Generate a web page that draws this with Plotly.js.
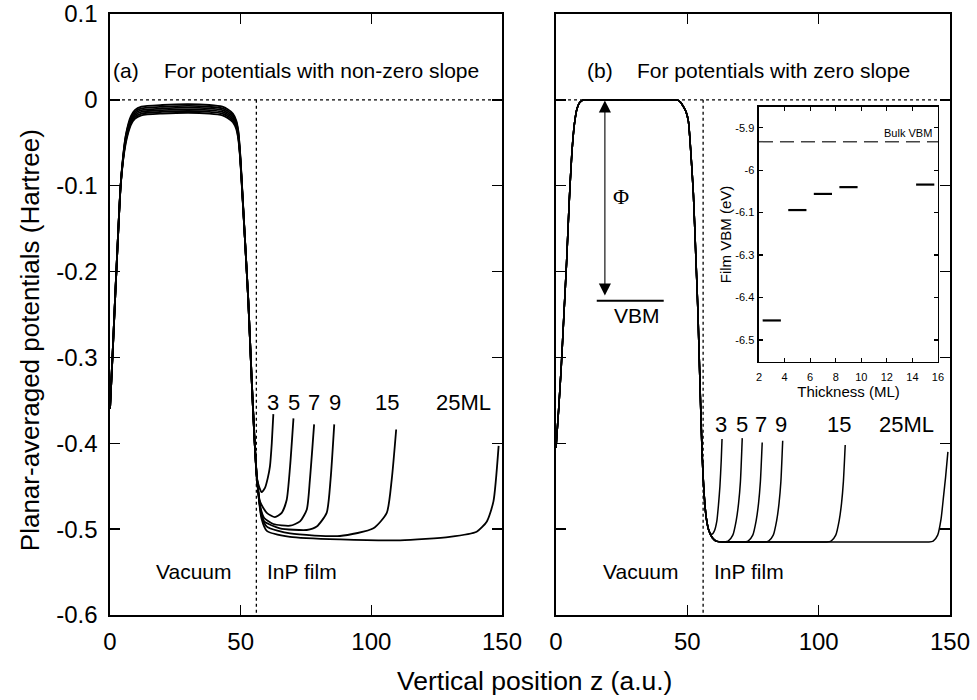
<!DOCTYPE html>
<html>
<head>
<meta charset="utf-8">
<script src="https://cdn.plot.ly/plotly-3.0.1.min.js"></script>
<style>
  html, body { margin: 0; padding: 0; background: #fff; }
  #chart { width: 977px; height: 700px; }
</style>
</head>
<body>
<div id="chart"></div>
<script>
// Planar-averaged potentials of InP films (3-25 ML) against vertical position z.
const FONT = 'Liberation Sans, Arial, Helvetica, sans-serif';

const THICKNESS = [3, 5, 7, 9, 15, 25];
const CURVE_LABELS = ['3', '5', '7', '9', '15', '25ML'];

// ---- Panel (a): potentials with non-zero slope ----
const A_VAC_Z = [0, 1, 2, 3, 4, 5, 6, 7, 8, 9.5, 12, 20, 30, 38, 43, 45, 47, 48.3, 49.1, 49.8, 50.4, 51.6, 52.9, 54.2, 55.2, 56.2];
const A_VAC_3 = [-0.36, -0.296, -0.228, -0.163, -0.103, -0.066, -0.042, -0.028, -0.019, -0.012, -0.008, -0.006, -0.005, -0.006, -0.008, -0.011, -0.016, -0.024, -0.036, -0.062, -0.093, -0.160, -0.233, -0.325, -0.39, -0.44];
const A_VAC_5 = [-0.36, -0.296, -0.228, -0.163, -0.103, -0.067, -0.043, -0.030, -0.021, -0.014, -0.010, -0.008, -0.007, -0.008, -0.010, -0.013, -0.018, -0.026, -0.038, -0.063, -0.094, -0.160, -0.233, -0.325, -0.39, -0.44];
const A_VAC_7 = [-0.36, -0.296, -0.228, -0.163, -0.103, -0.068, -0.045, -0.032, -0.023, -0.016, -0.012, -0.010, -0.009, -0.010, -0.012, -0.015, -0.020, -0.028, -0.040, -0.065, -0.095, -0.161, -0.233, -0.325, -0.39, -0.44];
const A_VAC_9 = [-0.36, -0.296, -0.228, -0.163, -0.103, -0.069, -0.047, -0.034, -0.025, -0.018, -0.014, -0.012, -0.011, -0.012, -0.014, -0.017, -0.022, -0.030, -0.042, -0.066, -0.096, -0.161, -0.233, -0.325, -0.39, -0.44];
const A_VAC_15 = [-0.36, -0.296, -0.228, -0.163, -0.103, -0.070, -0.049, -0.036, -0.027, -0.020, -0.016, -0.014, -0.013, -0.014, -0.016, -0.019, -0.024, -0.032, -0.044, -0.067, -0.097, -0.161, -0.233, -0.325, -0.39, -0.44];
const A_VAC_25 = [-0.36, -0.296, -0.228, -0.163, -0.103, -0.071, -0.051, -0.038, -0.029, -0.022, -0.018, -0.016, -0.015, -0.016, -0.018, -0.021, -0.026, -0.034, -0.046, -0.068, -0.098, -0.161, -0.233, -0.325, -0.39, -0.44];

const A_FILM_Z_3 = [57.2, 58.0, 59.3, 60.4, 61.2, 61.9, 62.5];
const A_FILM_V_3 = [-0.452, -0.457, -0.452, -0.440, -0.427, -0.400, -0.366];
const A_FILM_Z_5 = [57.4, 60, 63.1, 65.7, 67.6, 68.9, 70.2];
const A_FILM_V_5 = [-0.468, -0.481, -0.486, -0.481, -0.466, -0.427, -0.371];
const A_FILM_Z_7 = [57.6, 59, 62.5, 68.9, 72.7, 75.3, 76.5, 78.1];
const A_FILM_V_7 = [-0.475, -0.487, -0.494, -0.496, -0.491, -0.477, -0.442, -0.378];
const A_FILM_Z_9 = [57.8, 59, 65, 75.3, 79.1, 82.9, 84.4, 85.8];
const A_FILM_V_9 = [-0.480, -0.491, -0.499, -0.501, -0.497, -0.481, -0.442, -0.378];
const A_FILM_Z_15 = [58, 60, 68.9, 88, 100.8, 105.9, 107.8, 109.5];
const A_FILM_V_15 = [-0.485, -0.497, -0.505, -0.508, -0.499, -0.481, -0.442, -0.384];
const A_FILM_Z_25 = [58, 60, 68.9, 88, 111, 130, 140.3, 144.2, 146.7, 148.7];
const A_FILM_V_25 = [-0.488, -0.502, -0.509, -0.512, -0.513, -0.509, -0.503, -0.491, -0.468, -0.403];

// ---- Panel (b): potentials with zero slope ----
const B_VAC_Z = [0, 1, 2, 3, 4, 5, 6, 7, 8, 9, 10.5, 13, 20, 30, 40, 44, 46, 47.5, 48.5, 49.5, 50.4, 51.3, 52.3, 53.2, 54, 54.8, 55.6, 56.4, 57.2, 58.2];
const B_VAC_V = [-0.405, -0.36, -0.31, -0.25, -0.19, -0.12, -0.063, -0.028, -0.010, -0.003, 0, 0, 0, 0, 0, 0, 0, -0.003, -0.008, -0.014, -0.025, -0.06, -0.11, -0.18, -0.245, -0.33, -0.41, -0.46, -0.487, -0.502];

const B_FILM_Z_3 = [59.3, 60.3, 61.2, 61.9, 62.4, 62.9, 63.2];
const B_FILM_V_3 = [-0.506, -0.502, -0.491, -0.470, -0.450, -0.420, -0.395];
const B_FILM_Z_5 = [59.5, 61, 63, 65.5, 67.3, 68.6, 69.5, 70.2, 70.9];
const B_FILM_V_5 = [-0.510, -0.514, -0.515, -0.514, -0.507, -0.490, -0.470, -0.445, -0.394];
const B_FILM_Z_7 = [59.5, 61, 64, 68, 71, 73.1, 74.9, 76.2, 77.1, 77.8, 78.5];
const B_FILM_V_7 = [-0.510, -0.514, -0.515, -0.515, -0.515, -0.514, -0.507, -0.490, -0.470, -0.445, -0.399];
const B_FILM_Z_9 = [59.5, 61, 64, 70, 76, 79, 80.9, 82.7, 84, 84.9, 85.6, 86.3];
const B_FILM_V_9 = [-0.510, -0.514, -0.515, -0.515, -0.515, -0.515, -0.514, -0.507, -0.490, -0.470, -0.445, -0.397];
const B_FILM_Z_15 = [59.5, 61, 64, 75, 90, 100, 103, 104.7, 106.5, 107.8, 108.7, 109.4, 110.1];
const B_FILM_V_15 = [-0.510, -0.514, -0.515, -0.515, -0.515, -0.515, -0.515, -0.514, -0.507, -0.490, -0.470, -0.445, -0.402];
const B_FILM_Z_25 = [59.5, 61, 64, 80, 100, 120, 135, 140, 142, 143.6, 145.3, 146.6, 147.6, 148.3, 149.2];
const B_FILM_V_25 = [-0.510, -0.514, -0.515, -0.515, -0.515, -0.515, -0.515, -0.515, -0.515, -0.514, -0.507, -0.488, -0.460, -0.440, -0.410];

// Surface position and valence band maximum marker
const FILM_SURFACE_Z = 56;
const VBM_LEVEL = -0.234;

// ---- Inset: film VBM against thickness ----
const INSET_ML = [3, 5, 7, 9, 15];
const FILM_VBM = [-6.354, -6.094, -6.056, -6.040, -6.034];
const BULK_VBM = -5.933;
const INSET_Y_TICKS = [-5.9, -6.0, -6.1, -6.2, -6.3, -6.4];
const INSET_Y_LABELS = ['-5.9', '-6', '-6.1', '-6.3', '-6.4', '-6.5'];
const INSET_X_TICKS = [2, 4, 6, 8, 10, 12, 14, 16];

// Main axis ticks
const Z_TICKS = [0, 50, 100, 150];
const V_TICKS = [0.1, 0, -0.1, -0.2, -0.3, -0.4, -0.5, -0.6];
const V_LABELS = ['0.1', '0', '-0.1', '-0.2', '-0.3', '-0.4', '-0.5', '-0.6'];

const panelA = [
  [A_VAC_3, A_FILM_Z_3, A_FILM_V_3],
  [A_VAC_5, A_FILM_Z_5, A_FILM_V_5],
  [A_VAC_7, A_FILM_Z_7, A_FILM_V_7],
  [A_VAC_9, A_FILM_Z_9, A_FILM_V_9],
  [A_VAC_15, A_FILM_Z_15, A_FILM_V_15],
  [A_VAC_25, A_FILM_Z_25, A_FILM_V_25]
];
const panelB = [
  [B_FILM_Z_3, B_FILM_V_3],
  [B_FILM_Z_5, B_FILM_V_5],
  [B_FILM_Z_7, B_FILM_V_7],
  [B_FILM_Z_9, B_FILM_V_9],
  [B_FILM_Z_15, B_FILM_V_15],
  [B_FILM_Z_25, B_FILM_V_25]
];

const lineA = { color: '#000', width: 1.8, shape: 'spline', smoothing: 0.6 };
const lineB = { color: '#000', width: 1.5, shape: 'spline', smoothing: 0.6 };
const traces = [];
panelA.forEach((c, i) => {
  traces.push({
    type: 'scatter', mode: 'lines', name: THICKNESS[i] + ' ML (a)',
    x: A_VAC_Z.concat(c[1]), y: c[0].concat(c[2]),
    xaxis: 'x', yaxis: 'y', line: lineA, hoverinfo: 'x+y'
  });
});
panelB.forEach((c, i) => {
  traces.push({
    type: 'scatter', mode: 'lines', name: THICKNESS[i] + ' ML (b)',
    x: B_VAC_Z.concat(c[0]), y: B_VAC_V.concat(c[1]),
    xaxis: 'x2', yaxis: 'y2', line: lineB, hoverinfo: 'x+y'
  });
});
traces.push({
  type: 'scatter', mode: 'markers', name: 'Film VBM',
  x: INSET_ML, y: FILM_VBM, xaxis: 'x3', yaxis: 'y3',
  marker: { symbol: 'line-ew', size: 13, color: '#000', line: { color: '#000', width: 2.2 } }
});

const tickFont = { family: FONT, size: 24, color: '#000' };
const frame = {
  showline: true, linecolor: '#000', linewidth: 1.6, mirror: 'ticks',
  ticks: 'inside', ticklen: 10, tickwidth: 1.4, tickcolor: '#000',
  showgrid: false, zeroline: false, fixedrange: true
};
const zAxis = Object.assign({}, frame, {
  range: [0, 150], tickmode: 'array', tickvals: Z_TICKS,
  tickfont: tickFont, ticklabelstandoff: 5
});
const vAxis = Object.assign({}, frame, {
  range: [-0.6, 0.1], tickmode: 'array', tickvals: V_TICKS, ticktext: V_LABELS,
  tickfont: tickFont, ticklabelstandoff: 6
});

const insetAxis = {
  showline: true, linecolor: '#000', linewidth: 1.5, mirror: 'ticks',
  ticks: 'inside', ticklen: 4, tickwidth: 1.2, tickcolor: '#000',
  showgrid: false, zeroline: false, fixedrange: true,
  tickfont: { family: FONT, size: 11, color: '#000' }
};

const ann = (x, y, xref, yref, text, size, extra) => Object.assign({
  x: x, y: y, xref: xref, yref: yref, text: text, showarrow: false,
  xanchor: 'center', yanchor: 'middle',
  font: { family: FONT, size: size, color: '#000' }
}, extra || {});

const annotations = [
  ann(0.3, 0.034, 'x', 'y', '(a)', 21, { xanchor: 'left' }),
  ann(19.9, 0.034, 'x', 'y', 'For potentials with non-zero slope', 21, { xanchor: 'left' }),
  ann(11.0, 0.034, 'x2', 'y2', '(b)', 21, { xanchor: 'left' }),
  ann(30.1, 0.034, 'x2', 'y2', 'For potentials with zero slope', 21, { xanchor: 'left' }),
  ann(31.8, -0.549, 'x', 'y', 'Vacuum', 21),
  ann(59.3, -0.549, 'x', 'y', 'InP film', 21, { xanchor: 'left' }),
  ann(32.0, -0.549, 'x2', 'y2', 'Vacuum', 21),
  ann(59.3, -0.549, 'x2', 'y2', 'InP film', 21, { xanchor: 'left' }),
  ann(24.7, -0.113, 'x2', 'y2', 'Φ', 22, { font: { family: 'Liberation Serif, DejaVu Serif, serif', size: 22, color: '#000' } }),
  ann(30.8, -0.251, 'x2', 'y2', 'VBM', 21),
  // double-headed arrow spanning the work function
  {
    x: 18.6, y: -0.228, xref: 'x2', yref: 'y2',
    ax: 18.6, ay: 0.001, axref: 'x2', ayref: 'y2',
    text: '', showarrow: true, arrowside: 'end+start',
    arrowhead: 2, arrowsize: 2.2, arrowwidth: 1.1, arrowcolor: '#000'
  },
  ann(0.505, -0.11, 'paper', 'paper', 'Vertical position z (a.u.)', 26.5),
  ann(-0.095, 0.4576, 'paper', 'paper', 'Planar-averaged potentials (Hartree)', 26, { textangle: -90 }),
  ann(0.975, BULK_VBM, 'x3 domain', 'y3', 'Bulk VBM', 11, { xanchor: 'right', yanchor: 'bottom', yshift: 1 })
];
const A_LABEL_Z = [62.3, 70.4, 78.1, 86.1, 106.1, 135.2];
const B_LABEL_Z = [62.7, 70.7, 77.9, 85.5, 107.8, 133.5];
CURVE_LABELS.forEach((t, i) => {
  annotations.push(ann(A_LABEL_Z[i], -0.353, 'x', 'y', t, 22));
  annotations.push(ann(B_LABEL_Z[i], -0.378, 'x2', 'y2', t, 22));
});

const dotted = { color: '#000', width: 1.3, dash: 'dot' };
const shapes = [
  { type: 'line', xref: 'x domain', yref: 'y', x0: 0, x1: 1, y0: 0, y1: 0, line: dotted, layer: 'below' },
  { type: 'line', xref: 'x2 domain', yref: 'y2', x0: 0, x1: 1, y0: 0, y1: 0, line: dotted, layer: 'below' },
  { type: 'line', xref: 'x', yref: 'y', x0: FILM_SURFACE_Z, x1: FILM_SURFACE_Z, y0: 0, y1: -0.6, line: dotted, layer: 'below' },
  { type: 'line', xref: 'x2', yref: 'y2', x0: FILM_SURFACE_Z, x1: FILM_SURFACE_Z, y0: 0, y1: -0.6, line: dotted, layer: 'below' },
  { type: 'line', xref: 'x2', yref: 'y2', x0: 15.5, x1: 41, y0: VBM_LEVEL, y1: VBM_LEVEL, line: { color: '#000', width: 2 } },
  { type: 'line', xref: 'x3 domain', yref: 'y3', x0: 0, x1: 1, y0: BULK_VBM, y1: BULK_VBM,
    line: { color: '#444', width: 1.5, dash: '14px,7px' } }
];

const layout = {
  width: 977, height: 700,
  margin: { l: 110, r: 27, t: 14, b: 85 },
  paper_bgcolor: '#fff', plot_bgcolor: '#fff',
  showlegend: false,
  font: { family: FONT, color: '#000' },
  xaxis: Object.assign({}, zAxis, { domain: [0, 0.4667], anchor: 'y' }),
  xaxis2: Object.assign({}, zAxis, { domain: [0.531, 1], anchor: 'y2' }),
  yaxis: Object.assign({}, vAxis, { domain: [0, 1], anchor: 'x' }),
  yaxis2: Object.assign({}, vAxis, { domain: [0, 1], anchor: 'x2', showticklabels: false }),
  xaxis3: Object.assign({}, insetAxis, {
    domain: [0.7726, 0.9857], anchor: 'y3', range: [2, 16],
    tickmode: 'array', tickvals: INSET_X_TICKS, ticklabelstandoff: 4,
    title: { text: 'Thickness (ML)', font: { family: FONT, size: 15, color: '#000' }, standoff: 2 }
  }),
  yaxis3: Object.assign({}, insetAxis, {
    domain: [0.421, 0.8453], anchor: 'x3', range: [-6.4518, -5.8512],
    tickmode: 'array', tickvals: INSET_Y_TICKS, ticktext: INSET_Y_LABELS, ticklabelstandoff: 1,
    title: { text: 'Film VBM (eV)', font: { family: FONT, size: 15, color: '#000' }, standoff: 0 }
  }),
  annotations: annotations,
  shapes: shapes
};

Plotly.newPlot('chart', traces, layout, { displayModeBar: false, staticPlot: true });
</script>
</body>
</html>
